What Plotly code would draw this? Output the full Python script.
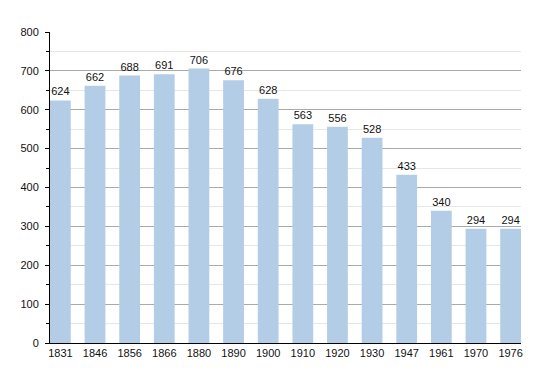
import plotly.graph_objects as go

years = ["1831", "1846", "1856", "1866", "1880", "1890", "1900", "1910", "1920", "1930", "1947", "1961", "1970", "1976"]
population = [624, 662, 688, 691, 706, 676, 628, 563, 556, 528, 433, 340, 294, 294]
y_ticks = [0, 100, 200, 300, 400, 500, 600, 700, 800]

fig = go.Figure()
fig.add_trace(go.Bar(
    x=years, y=population,
    marker=dict(color="#b3cde6", line=dict(width=0)),
    width=0.6,
    text=[str(v) for v in population],
    textposition="outside",
    cliponaxis=False,
    textfont=dict(family="Liberation Sans, Arial", size=11, color="#111"),
))

# page body has an 8px default margin, so the figure is sized/offset to compensate
fig.update_layout(
    width=542, height=365,
    margin=dict(l=42, r=29, t=24, b=30),
    plot_bgcolor="white", paper_bgcolor="white",
    showlegend=False,
    font=dict(family="Liberation Sans, Arial", size=11, color="#111"),
    xaxis=dict(
        type="category",
        range=[-0.3, len(years) - 0.7],
        automargin=False,
        showline=True, linecolor="black", linewidth=1,
        ticks="", showgrid=False,
        tickfont=dict(size=11),
    ),
    yaxis=dict(
        range=[0, 800],
        automargin=False,
        tickvals=y_ticks,
        showline=True, linecolor="black", linewidth=1,
        ticks="outside", ticklen=4, tickcolor="black",
        ticklabelstandoff=4,
        gridcolor="#aaaaaa", gridwidth=1,
        zeroline=False,
        minor=dict(dtick=50, showgrid=True, gridcolor="#e6e6e6", ticks="outside", ticklen=3, tickcolor="black"),
        tickfont=dict(size=11),
    ),
)

fig.write_html("out.html")
